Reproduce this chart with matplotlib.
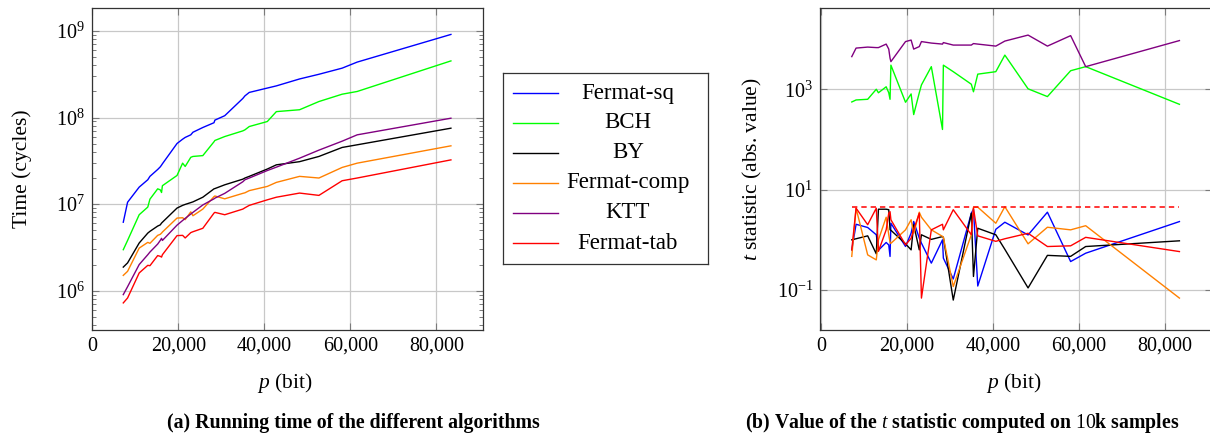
import matplotlib
matplotlib.use("Agg")
import matplotlib.pyplot as plt
from matplotlib.ticker import FuncFormatter, LogLocator, FixedLocator, NullLocator, LogFormatterSciNotation

plt.rcParams['font.family'] = ['Liberation Serif', 'DejaVu Serif']
plt.rcParams['mathtext.fontset'] = 'custom'
plt.rcParams['mathtext.rm'] = 'Liberation Serif'
plt.rcParams['mathtext.it'] = 'Liberation Serif:italic'
plt.rcParams['mathtext.bf'] = 'Liberation Serif:bold'

# taille de p (bit)
p_bits = [7200, 8200, 10900, 12900, 13400, 15200, 15800, 16100, 16300, 19700,
          21000, 21600, 22900, 23400, 25700, 28300, 28500, 30800, 35000, 35500,
          36500, 40700, 42800, 48200, 52700, 58100, 61600, 83400]

names = ["Fermat-sq", "BCH", "BY", "Fermat-comp", "KTT", "Fermat-tab"]
colors = ["#0000ff", "#00ff00", "#000000", "#ff8000", "#800080", "#ff0000"]

# temps (cycles)
time_fermat_sq = [6.17e6, 1.05e7, 1.57e7, 1.91e7, 2.09e7, 2.51e7, 2.69e7, 2.82e7, 2.92e7, 5.01e7,
                  5.62e7, 5.89e7, 6.31e7, 6.76e7, 7.67e7, 8.71e7, 9.33e7, 1.05e8, 1.66e8, 1.78e8,
                  1.95e8, 2.19e8, 2.32e8, 2.79e8, 3.16e8, 3.72e8, 4.37e8, 9.12e8]
time_bch = [2.97e6, 3.80e6, 7.53e6, 9.23e6, 1.14e7, 1.50e7, 1.46e7, 1.36e7, 1.63e7, 2.14e7,
            2.97e7, 2.72e7, 3.47e7, 3.55e7, 3.63e7, 5.25e7, 5.43e7, 6.03e7, 7.01e7, 7.21e7,
            7.87e7, 8.99e7, 1.17e8, 1.23e8, 1.53e8, 1.86e8, 2.0e8, 4.51e8]
time_by = [1.87e6, 2.09e6, 3.55e6, 4.62e6, 4.84e6, 5.57e6, 5.75e6, 6.03e6, 6.17e6, 8.99e6,
           9.66e6, 9.91e6, 1.04e7, 1.06e7, 1.20e7, 1.50e7, 1.51e7, 1.67e7, 1.94e7, 2.0e7,
           2.09e7, 2.54e7, 2.84e7, 3.09e7, 3.55e7, 4.51e7, 4.84e7, 7.53e7]
time_fermat_comp = [1.50e6, 1.67e6, 3.10e6, 3.61e6, 3.52e6, 4.35e6, 4.47e6, 4.62e6, 4.75e6, 6.89e6,
                    6.95e6, 6.61e6, 8.13e6, 7.33e6, 8.75e6, 1.22e7, 1.24e7, 1.15e7, 1.33e7, 1.35e7,
                    1.43e7, 1.60e7, 1.78e7, 2.09e7, 2.0e7, 2.65e7, 2.97e7, 4.71e7]
time_ktt = [8.99e5, 1.11e6, 2.0e6, 2.60e6, 2.79e6, 3.45e6, 3.80e6, 4.02e6, 3.80e6, 5.71e6,
            6.46e6, 6.84e6, 7.67e6, 8.02e6, 9.77e6, 1.15e7, 1.17e7, 1.33e7, 1.81e7, 1.91e7,
            2.0e7, 2.44e7, 2.67e7, 3.39e7, 4.20e7, 5.33e7, 6.31e7, 9.82e7]
time_fermat_tab = [7.21e5, 8.22e5, 1.60e6, 1.96e6, 1.94e6, 2.54e6, 2.49e6, 2.44e6, 2.60e6, 4.32e6,
                   4.35e6, 4.06e6, 4.68e6, 4.79e6, 5.25e6, 7.87e6, 8.02e6, 7.53e6, 8.75e6, 9.06e6,
                   9.66e6, 1.12e7, 1.20e7, 1.34e7, 1.26e7, 1.86e7, 2.0e7, 3.24e7]

# statistique t (valeur absolue)
t_fermat_sq = [0.63, 2.04, 1.76, 1.26, 0.62, 0.885, 0.79, 0.466, 2.14, 0.736,
               1.36, 2.32, 1.08, 0.859, 0.343, 1.0, 0.432, 0.166, 3.39, 4.07,
               0.12, 1.62, 2.24, 1.25, 3.55, 0.369, 0.541, 2.31]
t_bch = [558, 612, 631, 1000, 851, 1120, 851, 631, 3020, 550,
         807, 313, 851, 1220, 2820, 158, 3020, 2240, 1260, 891,
         2000, 2240, 4790, 1020, 714, 2340, 2820, 501]
t_by = [1.0, 1.05, 1.20, 0.525, 4.07, 4.07, 3.98, 1.58, 1.55, 0.832,
        0.631, 2.0, 0.631, 1.26, 1.02, 1.16, 1.12, 0.063, 3.39, 0.186,
        1.70, 1.26, 0.646, 0.110, 0.49, 0.468, 0.735, 0.955]
t_fermat_comp = [0.468, 4.27, 0.501, 0.398, 1.0, 2.82, 1.26, 0.891, 0.851, 1.58,
                 2.51, 1.35, 3.55, 2.82, 1.58, 1.17, 1.12, 0.117, 1.26, 4.47,
                 4.47, 2.14, 4.57, 0.832, 1.78, 1.58, 1.91, 0.069]
t_ktt = [4470, 6610, 6920, 6760, 6760, 7940, 6310, 4170, 3550, 8910,
         9550, 6310, 7080, 8910, 8320, 7940, 8510, 7590, 7590, 8130,
         7940, 7240, 9120, 12000, 7240, 11700, 2820, 9330]
t_fermat_tab = [0.631, 4.27, 2.0, 4.27, 0.589, 1.58, 3.39, 3.63, 2.51, 0.794,
                1.07, 1.58, 3.39, 0.069, 1.58, 2.04, 1.58, 3.98, 1.26, 4.27,
                1.20, 0.933, 1.05, 1.35, 0.735, 0.759, 1.12, 0.583]
t_threshold = 4.5

times = [time_fermat_sq, time_bch, time_by, time_fermat_comp, time_ktt, time_fermat_tab]
tstats = [t_fermat_sq, t_bch, t_by, t_fermat_comp, t_ktt, t_fermat_tab]

W, H = 1210, 436
fig = plt.figure(figsize=(W / 100, H / 100), dpi=100)


def px_box(x0, y0, x1, y1):
    return [x0 / W, 1 - y1 / H, (x1 - x0) / W, (y1 - y0) / H]


ax1 = fig.add_axes(px_box(91.5, 8.3, 483, 330))
ax2 = fig.add_axes(px_box(820, 8.3, 1211.5, 330))

for series, c in zip(times, colors):
    ax1.plot(p_bits, series, color=c, lw=1.0)
for series, c in zip(tstats, colors):
    ax2.plot(p_bits, series, color=c, lw=1.0)
ax2.plot([p_bits[0], p_bits[-1]], [t_threshold, t_threshold], color="#ff0000", lw=1.1,
         dashes=(3.5, 2.6))

fmt_x = FuncFormatter(lambda v, pos: f"{v:,.0f}")
for ax in (ax1, ax2):
    ax.set_yscale("log")
    ax.set_xlim(-190, 90860)
    ax.xaxis.set_major_locator(FixedLocator([0, 20000, 40000, 60000, 80000]))
    ax.xaxis.set_major_formatter(fmt_x)
    ax.xaxis.set_minor_locator(NullLocator())
    ax.grid(True, which="major", color="#c8c8c8", lw=0.9)
    ax.set_axisbelow(True)
    ax.tick_params(which="both", direction="in", top=True, right=True,
                   color="#7a7a7a", labelsize=14.5, pad=5)
    ax.tick_params(which="major", length=5, width=0.8)
    ax.tick_params(which="minor", length=3.2, width=0.7)
    for s in ax.spines.values():
        s.set_color("#333333")
        s.set_linewidth(0.9)

ax1.set_ylim(10 ** 5.545, 10 ** 9.262)
ax1.yaxis.set_major_locator(FixedLocator([1e6, 1e7, 1e8, 1e9]))
ax1.yaxis.set_major_formatter(LogFormatterSciNotation())
ax1.yaxis.set_minor_locator(LogLocator(base=10, subs=range(2, 10), numticks=20))

ax2.set_ylim(10 ** -1.797, 10 ** 4.613)
ax2.yaxis.set_major_locator(FixedLocator([0.1, 10, 1000]))
ax2.yaxis.set_major_formatter(LogFormatterSciNotation())
ax2.yaxis.set_minor_locator(NullLocator())

# textes
fig.text(22 / W, 1 - 169 / H, "Time (cycles)", rotation=90, ha="center", va="center", fontsize=15.5)
fig.text(752 / W, 1 - 169 / H, "$t$ statistic (abs. value)", rotation=90, ha="center", va="center", fontsize=15.5)
fig.text(285 / W, 1 - 383 / H, "$p$ (bit)", ha="center", va="center", fontsize=15.5)
fig.text(1014 / W, 1 - 383 / H, "$p$ (bit)", ha="center", va="center", fontsize=15.5)
fig.text(353.5 / W, 1 - 423 / H, "(a) Running time of the different algorithms",
         ha="center", va="center", fontsize=14.3, fontweight="bold")
fig.text(962 / W, 1 - 423 / H, "(b) Value of the $t$ statistic computed on $10$k samples",
         ha="center", va="center", fontsize=14.2, fontweight="bold")

# legende
axl = fig.add_axes(px_box(503.3, 73.3, 707.7, 264.3))
axl.set_xlim(0, 1)
axl.set_ylim(0, 1)
axl.set_xticks([])
axl.set_yticks([])
for s in axl.spines.values():
    s.set_color("#333333")
    s.set_linewidth(0.9)
rows = [0.895, 0.740, 0.583, 0.426, 0.269, 0.111]
for name, c, yy in zip(names, colors, rows):
    axl.plot([0.046, 0.266], [yy, yy], color=c, lw=1.0)
    axl.text(0.61, yy, name, ha="center", va="center", fontsize=16.5)

fig.savefig("out.png", dpi=100)
